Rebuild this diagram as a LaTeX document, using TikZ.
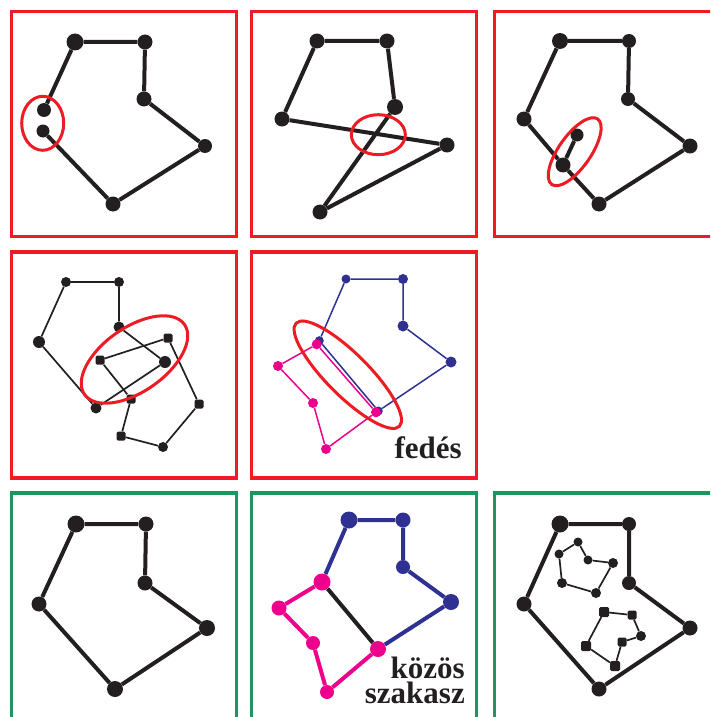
\documentclass[tikz,border=0pt]{standalone}
\usepackage{fontspec}
\setmainfont{Liberation Serif}
\pgfdeclarelayer{bg}
\pgfsetlayers{bg,main}
\definecolor{ink}{RGB}{35,31,32}
\definecolor{fred}{RGB}{237,28,36}
\definecolor{fgreen}{RGB}{26,150,94}
\definecolor{pblue}{RGB}{46,49,146}
\definecolor{ppink}{RGB}{236,0,140}
\tikzset{
  dot/.style={circle,fill=ink,inner sep=0pt,minimum size=#1pt},
  bdot/.style={circle,fill=pblue,inner sep=0pt,minimum size=#1pt},
  kdot/.style={circle,fill=ppink,inner sep=0pt,minimum size=#1pt},
  sqn/.style={rectangle,fill=ink,inner sep=0pt,minimum size=#1pt,rounded corners=1.5pt},
  wide/.style={draw=ink,line width=4pt},
  slim/.style={draw=ink,line width=1.7pt},
  ring/.style={draw=fred,line width=3pt},
  redframe/.style={draw=fred,line width=3.3pt},
  greenframe/.style={draw=fgreen,line width=3.3pt},
  label/.style={font=\fontsize{31}{25}\selectfont\bfseries,text=ink,inner sep=0pt}
}
\begin{document}
\begin{tikzpicture}[x=1pt,y=-1pt]
\useasboundingbox (0,0) rectangle (710,717);
\clip (0,0) rectangle (710,717);
% frames
\draw[redframe] (11.5,11.5) rectangle (236.7,236.5);
\draw[redframe] (251.4,11.5) rectangle (476.6,236.5);
\draw[redframe] (494.6,11.5) rectangle (725,236.5);
\draw[redframe] (11.5,252) rectangle (236.7,478);
\draw[redframe] (251.4,252) rectangle (476.6,478);
\draw[greenframe] (11.5,493) rectangle (236.7,730);
\draw[greenframe] (251.4,493) rectangle (476.6,730);
\draw[greenframe] (494.4,493) rectangle (725,730);

% ---------- panel 1
\node[dot=17] (n1a) at (75,42) {};
\node[dot=15] (n1b) at (145,42) {};
\node[dot=15] (n1c) at (144,99) {};
\node[dot=14] (n1d) at (205,146) {};
\node[dot=15] (n1e) at (113,204) {};
\node[dot=13] (n1f) at (43,131) {};
\node[dot=14] (n1g) at (44,110) {};
\begin{pgfonlayer}{bg}
\draw[wide] (n1g)--(n1a)--(n1b)--(n1c)--(n1d)--(n1e)--(n1f);
\end{pgfonlayer}
\draw[ring] (42.7,123.3) ellipse [x radius=21,y radius=27];

% ---------- panel 2
\node[dot=15] (n2a) at (317,41) {};
\node[dot=15] (n2b) at (387,41) {};
\node[dot=16] (n2c) at (395,107) {};
\node[dot=15] (n2d) at (282,119) {};
\node[dot=15] (n2e) at (447,145) {};
\node[dot=15] (n2f) at (320,212) {};
\begin{pgfonlayer}{bg}
\draw[wide] (n2d)--(n2a)--(n2b)--(n2c)--(n2f)--(n2e)--(n2d);
\end{pgfonlayer}
\draw[ring] (378.3,134.7) ellipse [x radius=27,y radius=20];

% ---------- panel 3
\node[dot=16] (n3a) at (560,41) {};
\node[dot=14] (n3b) at (629,41) {};
\node[dot=14] (n3c) at (628,99) {};
\node[dot=15] (n3d) at (690,146) {};
\node[dot=15] (n3e) at (599,204) {};
\node[dot=15] (n3f) at (563,165) {};
\node[dot=13] (n3g) at (577,135) {};
\node[dot=15] (n3h) at (524,119) {};
\begin{pgfonlayer}{bg}
\draw[wide] (n3h)--(n3a)--(n3b)--(n3c)--(n3d)--(n3e)--(n3f)--(n3h);
\draw[wide] (n3f)--(n3g);
\end{pgfonlayer}
\draw[ring,rotate around={55:(574.7,151.7)}] (574.7,151.7) ellipse [x radius=40,y radius=16];

% ---------- panel 4
\node[dot=10] (n4a) at (66,282) {};
\node[dot=10] (n4b) at (119,282) {};
\node[dot=11] (n4c) at (119,327) {};
\node[dot=12] (n4d) at (165,362) {};
\node[dot=11] (n4e) at (96,408) {};
\node[dot=12] (n4f) at (39,342) {};
\node[sqn=9] (n4p) at (100,360) {};
\node[sqn=9] (n4q) at (168,338) {};
\node[sqn=9] (n4r) at (199,404) {};
\node[dot=10] (n4s) at (163,447) {};
\node[sqn=9] (n4t) at (121,436) {};
\node[sqn=9] (n4u) at (131,399) {};
\begin{pgfonlayer}{bg}
\draw[slim] (n4f)--(n4a)--(n4b)--(n4c)--(n4d)--(n4e)--(n4f);
\draw[slim] (n4p)--(n4q)--(n4r)--(n4s)--(n4t)--(n4u)--(n4p);
\end{pgfonlayer}
\draw[ring,rotate around={35:(134.5,359.5)}] (134.5,359.5) ellipse [x radius=61,y radius=32];

% ---------- panel 5
\node[bdot=9] (n5a) at (346,279) {};
\node[bdot=10] (n5b) at (403,279) {};
\node[bdot=11] (n5c) at (403,326) {};
\node[bdot=11] (n5d) at (451,362) {};
\node[bdot=9] (n5e) at (378.3,411) {};
\node[bdot=9] (n5f) at (319.3,340.7) {};
\node[kdot=10] (n5k) at (316.7,344.3) {};
\node[kdot=10] (n5l) at (278,366) {};
\node[kdot=10] (n5m) at (313,403) {};
\node[kdot=10] (n5n) at (326,449) {};
\node[kdot=10] (n5o) at (376,412.3) {};
\begin{pgfonlayer}{bg}
\draw[draw=pblue,line width=1.5pt] (n5f)--(n5a)--(n5b)--(n5c)--(n5d)--(n5e)--(n5f);
\draw[draw=ppink,line width=1.5pt] (n5k)--(n5l)--(n5m)--(n5n)--(n5o)--(n5k);
\end{pgfonlayer}
\draw[ring,rotate around={-45:(347.8,374.7)}] (347.8,374.7) ellipse [x radius=73,y radius=21];
\node[label,anchor=base east] (t5) at (462,458) {fedés};

% ---------- panel 6
\node[dot=17] (n6a) at (76,524) {};
\node[dot=15] (n6b) at (146,524) {};
\node[dot=15] (n6c) at (145,583) {};
\node[dot=16] (n6d) at (207,628) {};
\node[dot=16] (n6e) at (115,689) {};
\node[dot=15] (n6f) at (39,604) {};
\begin{pgfonlayer}{bg}
\draw[wide] (n6f)--(n6a)--(n6b)--(n6c)--(n6d)--(n6e)--(n6f);
\end{pgfonlayer}

% ---------- panel 7
\node[bdot=17] (n7a) at (349,520) {};
\node[bdot=15] (n7b) at (403,520) {};
\node[bdot=14] (n7c) at (403,567) {};
\node[bdot=16] (n7d) at (451,602) {};
\node[kdot=17] (n7f) at (322,582) {};
\node[kdot=15] (n7g) at (279,608) {};
\node[kdot=14] (n7h) at (313,643) {};
\node[kdot=14] (n7i) at (327,692) {};
\node[kdot=16] (n7e) at (378,649) {};
\begin{pgfonlayer}{bg}
\draw[draw=pblue,line width=4pt] (n7f)--(n7a)--(n7b)--(n7c)--(n7d)--(n7e);
\draw[draw=ink,line width=4pt] (n7f)--(n7e);
\draw[draw=ppink,line width=4pt] (n7f)--(n7g)--(n7h)--(n7i)--(n7e);
\end{pgfonlayer}
\node[label,align=right,anchor=base east] (t7) at (465,703) {közös\\szakasz};

% ---------- panel 8
\node[dot=17] (n8a) at (560,524) {};
\node[dot=14] (n8b) at (629,524) {};
\node[dot=14] (n8c) at (629,583) {};
\node[dot=15] (n8d) at (690,628) {};
\node[dot=15] (n8e) at (599,689) {};
\node[dot=15] (n8f) at (524,604) {};
\node[dot=9] (n8q) at (578,542) {};
\node[dot=9] (n8r) at (588,560) {};
\node[dot=10] (n8s) at (613,563) {};
\node[dot=10] (n8t) at (596,593) {};
\node[dot=10] (n8u) at (562,583) {};
\node[dot=9] (n8v) at (559,554) {};
\node[sqn=10] (n8w) at (604,612) {};
\node[sqn=9] (n8x) at (632,615) {};
\node[dot=10] (n8y) at (641,636) {};
\node[sqn=9] (n8z) at (622,642) {};
\node[sqn=10] (n8m) at (615,666) {};
\node[sqn=10] (n8n) at (586,646) {};
\begin{pgfonlayer}{bg}
\draw[wide] (n8f)--(n8a)--(n8b)--(n8c)--(n8d)--(n8e)--(n8f);
\draw[slim] (n8v)--(n8q)--(n8r)--(n8s)--(n8t)--(n8u)--(n8v);
\draw[slim] (n8w)--(n8x)--(n8y)--(n8z)--(n8m)--(n8n)--(n8w);
\end{pgfonlayer}
\end{tikzpicture}
\end{document}
